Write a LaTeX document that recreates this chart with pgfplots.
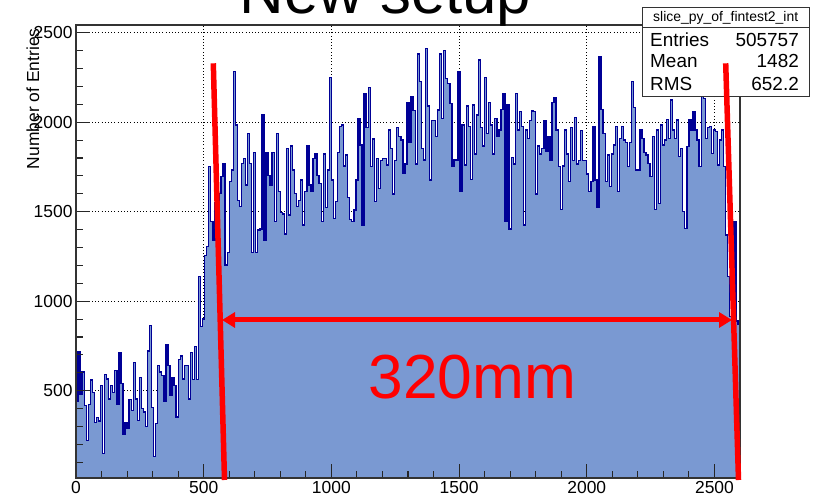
\documentclass[border=0pt]{standalone}
\usepackage{pgfplots}
\pgfplotsset{compat=1.18}
\usepackage{pgfplotstable}
\usepackage{fontspec}
\setmainfont{Liberation Sans}
\usetikzlibrary{arrows.meta}
\definecolor{histfill}{RGB}{122,153,210}
\definecolor{histline}{RGB}{0,0,150}

\pgfplotstableread[row sep=\\]{
x y\\
0 440\\ 8 720\\ 16 478\\ 24 605\\ 32 416\\ 40 222\\ 48 422\\ 56 560\\ 64 490\\ 72 324\\
80 350\\ 88 330\\ 96 528\\ 104 148\\ 112 592\\ 120 565\\ 128 454\\ 136 528\\ 144 490\\ 152 611\\
160 422\\ 168 713\\ 176 541\\ 184 254\\ 192 320\\ 200 287\\ 208 450\\ 216 389\\ 224 657\\ 232 454\\
240 333\\ 248 574\\ 256 400\\ 264 380\\ 272 300\\ 280 722\\ 288 865\\ 296 404\\ 304 133\\ 312 318\\
320 639\\ 328 605\\ 336 583\\ 344 439\\ 352 759\\ 360 639\\ 368 472\\ 376 570\\ 384 528\\ 392 352\\
400 676\\ 408 694\\ 416 565\\ 424 639\\ 432 639\\ 440 454\\ 448 713\\ 456 561\\ 464 745\\ 472 561\\
480 1139\\ 488 860\\
496 900\\ 504 1254\\ 512 1305\\ 520 1751\\ 528 1444\\ 536 1338\\ 544 1550\\ 552 1400\\ 560 1600\\ 568 1696\\
576 1770\\ 584 1202\\ 592 1271\\ 600 1668\\ 608 1733\\ 616 2282\\ 624 1984\\ 632 1562\\ 640 1528\\ 648 1770\\
656 1798\\ 664 1649\\ 672 1938\\ 680 1770\\ 688 1271\\ 696 1830\\ 704 1271\\ 712 1398\\ 720 1403\\ 728 2040\\
736 1338\\ 744 1830\\ 752 1701\\ 760 1649\\ 768 1830\\ 776 1444\\ 784 1938\\ 792 1612\\ 800 1494\\ 808 1487\\
816 1375\\ 824 1854\\ 832 1482\\ 840 1867\\ 848 1733\\ 856 1603\\ 864 1528\\ 872 1562\\ 880 1677\\ 888 1426\\
896 1612\\ 904 1867\\ 912 1649\\ 920 1612\\ 928 1798\\ 936 1822\\ 944 1701\\ 952 1658\\ 960 1444\\ 968 1822\\
976 1525\\ 984 1733\\ 992 2250\\ 1000 1677\\ 1008 1463\\
1016 1556\\ 1024 1832\\ 1032 1975\\ 1040 1984\\ 1048 1755\\ 1056 1817\\ 1064 1578\\ 1072 1457\\ 1080 1444\\ 1088 1509\\
1096 1677\\ 1104 2021\\ 1112 1873\\ 1120 1426\\ 1128 2161\\ 1136 1971\\ 1144 2193\\ 1152 1751\\ 1160 1906\\ 1168 1556\\
1176 1798\\ 1184 1630\\ 1192 1785\\ 1200 1798\\ 1208 1798\\ 1216 1761\\ 1224 1956\\ 1232 1854\\ 1240 1599\\ 1248 1785\\
1256 1971\\ 1264 1919\\ 1272 1900\\ 1280 1714\\ 1288 1766\\ 1296 2109\\ 1304 1886\\ 1312 2142\\ 1320 2064\\ 1328 1766\\
1336 2381\\ 1344 2226\\ 1352 1854\\ 1360 1789\\ 1368 2412\\ 1376 2090\\ 1384 1677\\ 1392 2008\\ 1400 2008\\ 1408 1919\\
1416 2068\\ 1424 2381\\ 1432 2021\\ 1440 2399\\ 1448 2245\\ 1456 2217\\ 1464 2105\\ 1472 1755\\ 1480 1789\\ 1488 1789\\
1496 2282\\ 1504 1612\\ 1512 1984\\ 1520 1761\\ 1528 2090\\ 1536 1975\\ 1544 1681\\ 1552 2096\\
1560 1822\\ 1568 2040\\ 1576 2347\\ 1584 1971\\ 1592 1867\\ 1600 2249\\ 1608 1938\\ 1616 2109\\ 1624 1984\\ 1632 1822\\
1640 2021\\ 1648 1919\\ 1656 1956\\ 1664 2072\\ 1672 2161\\ 1680 1444\\ 1688 2096\\ 1696 1403\\ 1704 1802\\ 1712 1766\\
1720 2161\\ 1728 1956\\ 1736 2059\\ 1744 1975\\ 1752 1426\\ 1760 1956\\ 1768 1910\\ 1776 2008\\ 1784 2062\\ 1792 2059\\
1800 1599\\ 1808 1867\\ 1816 1822\\ 1824 1854\\ 1832 2007\\ 1840 1835\\ 1848 1919\\ 1856 1785\\ 1864 2109\\ 1872 2139\\
1880 1956\\ 1888 1751\\ 1896 1513\\ 1904 1755\\ 1912 1956\\ 1920 1822\\ 1928 1668\\ 1936 1971\\ 1944 1785\\ 1952 2027\\
1960 1766\\ 1968 1785\\ 1976 1953\\ 1984 1785\\ 1992 1785\\ 2000 1711\\ 2008 1612\\ 2016 1668\\ 2024 1975\\ 2032 1677\\
2040 1525\\ 2048 2366\\
2056 2072\\ 2064 1938\\ 2072 1668\\ 2080 1817\\ 2088 1640\\ 2096 1822\\ 2104 1873\\ 2112 1975\\ 2120 1612\\ 2128 1910\\
2136 1975\\ 2144 1900\\ 2152 1886\\ 2160 1751\\ 2168 1886\\ 2176 2226\\ 2184 2083\\ 2192 1733\\ 2200 1733\\ 2208 1956\\
2216 1910\\ 2224 1830\\ 2232 1817\\ 2240 1770\\ 2248 1696\\ 2256 1919\\ 2264 1513\\ 2272 1956\\ 2280 1547\\ 2288 1984\\
2296 1873\\ 2304 1900\\ 2312 2016\\ 2320 1910\\ 2328 2124\\ 2336 1956\\ 2344 1910\\ 2352 2012\\ 2360 1807\\ 2368 1854\\
2376 1500\\ 2384 1407\\ 2392 1863\\ 2400 2012\\ 2408 1956\\ 2416 2059\\ 2424 1956\\ 2432 1900\\ 2440 1751\\ 2448 2142\\
2456 2133\\ 2464 1910\\ 2472 1971\\ 2480 1975\\ 2488 1826\\ 2496 1956\\ 2504 1947\\ 2512 1761\\ 2520 1900\\ 2528 1956\\
2536 1751\\ 2544 1370\\ 2552 1137\\ 2560 914\\ 2568 914\\ 2576 1444\\ 2584 890\\ 2592 870\\ 2600 870\\
}\histdata

\pgfplotsset{
  common/.style={
    at={(76bp,21bp)}, anchor=south west,
    scale only axis, width=664bp, height=453bp,
    xmin=0, xmax=2600, ymin=12, ymax=2543,
    xtick={0,500,...,2500}, ytick={500,1000,...,2500},
    scaled ticks=false,
  }
}

\begin{document}
\begin{tikzpicture}
% layer 1: grid and histogram
\begin{axis}[common,
  grid=major,
  major grid style={black, line width=0.7bp, dash pattern=on 0.8bp off 2.4bp},
  major tick length=0pt, minor tick length=0pt,
  xticklabels={}, yticklabels={},
  axis line style={draw=none},
]
\addplot[const plot, fill=histfill, draw=none] table[x=x,y=y]{\histdata} \closedcycle;
\addplot[const plot, draw=histline, line width=1.3bp] table[x=x,y=y]{\histdata};
\end{axis}
% layer 2: frame, ticks and labels on top
\begin{axis}[common,
  minor xtick={100,200,...,2600}, minor ytick={100,200,...,2500},
  tick pos=left, tick align=inside,
  major tick length=14bp, minor tick length=7bp,
  every tick/.style={black!85, line width=1.1bp},
  axis line style={black!80, line width=1.1bp},
  /pgf/number format/assume math mode=true,
  /pgf/number format/1000 sep={},
  ticklabel style={font=\fontsize{17.5}{20}\selectfont},
  ylabel={Number of Entries},
  ylabel style={font=\fontsize{17.5}{20}\selectfont, at={(axis description cs:-0.065,1)}, anchor=east},
]
\end{axis}

% title (partly above the page)
\node[font=\fontsize{62}{70}\selectfont, anchor=base, inner sep=0] at (385.5bp,485.7bp) {New setup};

% stats box
\draw[black!80, line width=1bp, fill=white] (642.5bp,402bp) rectangle (809bp,491bp);
\draw[black!80, line width=1bp] (642.5bp,471bp) -- (809bp,471bp);
\node[font=\fontsize{14}{16}\selectfont, anchor=base, inner sep=0] at (725.7bp,477bp) {slice\_py\_of\_fintest2\_int};
\begin{scope}[every node/.style={font=\fontsize{19}{22}\selectfont, inner sep=0}]
\node[anchor=base west] at (650bp,452bp) {Entries};
\node[anchor=base east] at (799bp,452bp) {505757};
\node[anchor=base west] at (650bp,431bp) {Mean};
\node[anchor=base east] at (799bp,431bp) {1482};
\node[anchor=base west] at (650bp,408.5bp) {RMS};
\node[anchor=base east] at (799bp,408.5bp) {652.2};
\end{scope}

% red annotations
\draw[red, line width=5.5bp] (213.3bp,435.7bp) -- (224.5bp,19bp);
\draw[red, line width=5.5bp] (725.7bp,435.7bp) -- (738.5bp,19bp);
\draw[red, line width=5bp, {Triangle[length=13bp,width=15bp]}-{Triangle[length=13bp,width=15bp]}] (222bp,179bp) -- (732bp,179bp);
\node[red, anchor=base, font=\fontsize{62.5}{70}\selectfont, inner sep=0] at (472.5bp,100.7bp) {320mm};

\pgfresetboundingbox
\path[use as bounding box] (0,0) rectangle (813bp,499bp);
\end{tikzpicture}
\end{document}
